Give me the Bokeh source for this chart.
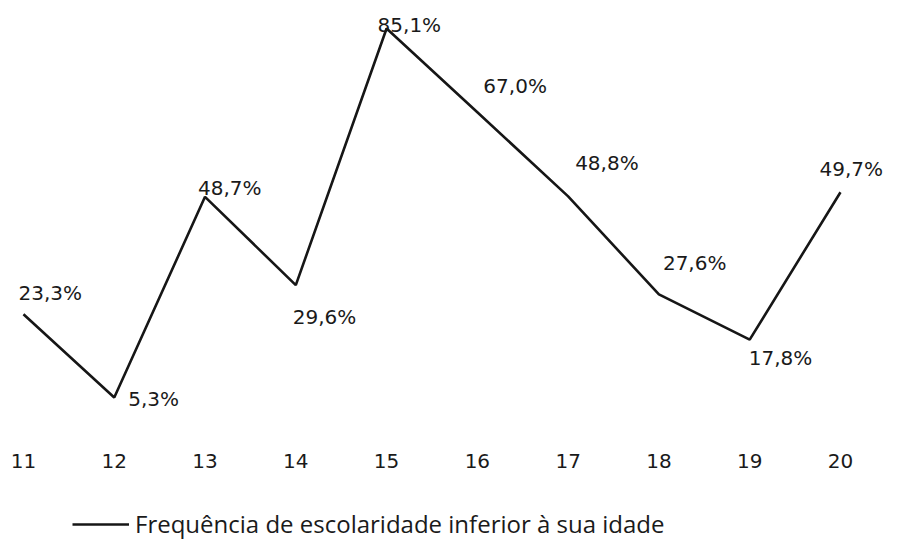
from bokeh.plotting import figure
from bokeh.models import ColumnDataSource, FixedTicker, Legend, LegendItem, Range1d
from bokeh.core.properties import value
from bokeh.embed import file_html
from bokeh.resources import INLINE

# data
ages = [11, 12, 13, 14, 15, 16, 17, 18, 19, 20]
pct = [23.3, 5.3, 48.7, 29.6, 85.1, 67.0, 48.8, 27.6, 17.8, 49.7]
series_name = "Frequência de escolaridade inferior à sua idade"

labels = [f"{v:.1f}".replace(".", ",") + "%" for v in pct]
# label placement (screen px relative to each point)
lab_dx = [-5, 14, -7, -3, -9, 6, 7, 4, -1, -21]
lab_dy = [-21, 2, -9, 32, -4, -26, -33, -31, 18, -23]

src = ColumnDataSource(dict(x=ages, y=pct, lab=labels, dx=lab_dx, dy=lab_dy))

p = figure(width=884, height=540, output_backend="svg", toolbar_location=None,
           x_range=Range1d(10.747, 20.485), y_range=Range1d(-25.63, 91.16),
           y_axis_location=None, min_border=0)
p.outline_line_color = None
p.xgrid.visible = False
p.ygrid.visible = False
p.background_fill_color = "white"
p.border_fill_color = "white"

ln = p.line("x", "y", source=src, line_color="#161616", line_width=2.6)

p.text("x", "y", text="lab", source=src, x_offset="dx", y_offset="dy",
       text_align="left", text_baseline="middle", text_color="#1a1a1a",
       text_font=value("DejaVu Sans"), text_font_size="20px")

ax = p.xaxis[0]
ax.fixed_location = -4.0
ax.ticker = FixedTicker(ticks=ages)
ax.axis_line_color = None
ax.major_tick_line_color = None
ax.minor_tick_line_color = None
ax.major_label_text_font = "DejaVu Sans"
ax.major_label_text_font_size = "20px"
ax.major_label_text_color = "#1a1a1a"
ax.major_label_standoff = 8

legend = Legend(items=[LegendItem(label=series_name, renderers=[ln])],
                location=(72, 0), margin=0, padding=0,
                glyph_width=57, glyph_height=20, label_height=20,
                label_standoff=6, label_text_font="Open Sans",
                label_text_font_size="24px", label_text_color="#1a1a1a",
                border_line_color=None, background_fill_alpha=0)
p.add_layout(legend, "center")

open("out.html", "w").write(file_html(p, INLINE))
